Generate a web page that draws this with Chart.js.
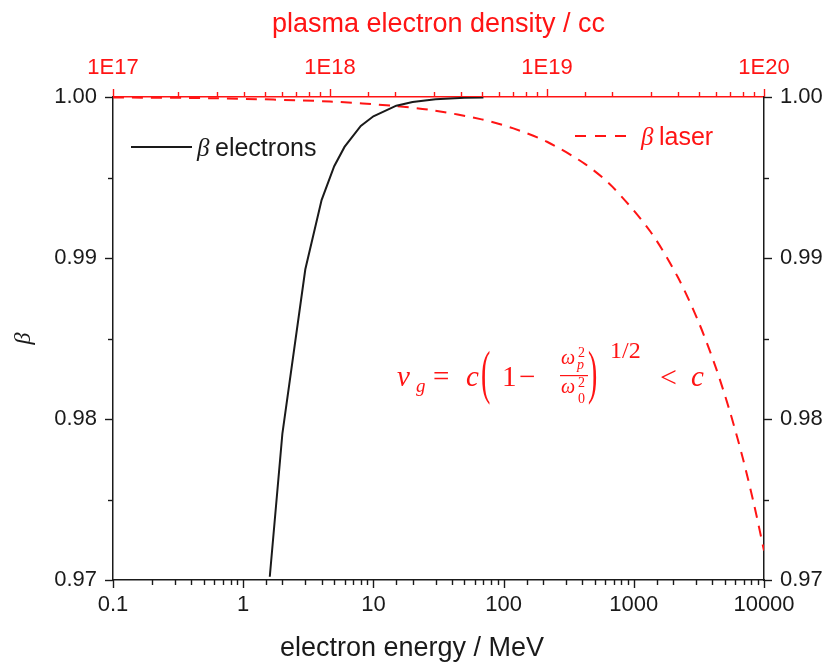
<!DOCTYPE html>
<html>
<head>
<meta charset="utf-8">
<script src="https://cdn.jsdelivr.net/npm/chart.js@4.4.1/dist/chart.umd.min.js"></script>
<style>
  html, body { margin: 0; padding: 0; background: #fff; }
  #wrap { width: 824px; height: 664px; }
</style>
</head>
<body>
<div id="wrap"><canvas id="chart" width="824" height="664"></canvas></div>
<script>
const RED = "#ff1414";
const INK = "#1a1a1a";

// black curve: electron energy (MeV) -> beta
const energyMeV = [1.6, 2, 3, 4, 5, 6, 8, 10, 15, 20, 30, 50, 70];
const betaElectrons = [0.9702, 0.9791, 0.9893, 0.9936, 0.9957, 0.9969, 0.9982, 0.9988, 0.99946, 0.99969, 0.99986, 0.99995, 0.99997];

// red dashed curve: plasma density (per cc) -> laser group velocity / c
const densityCc = [1e17, 3e17, 1e18, 2e18, 3e18, 5e18, 7e18, 1e19, 1.5e19, 2e19, 3e19, 4e19, 5e19, 6e19, 7e19, 8e19, 9e19, 1e20];
const betaLaser = [0.99997, 0.99992, 0.99972, 0.99944, 0.99917, 0.99861, 0.99805, 0.99722, 0.99583, 0.99443, 0.99163, 0.98883, 0.98601, 0.98319, 0.98036, 0.97753, 0.97468, 0.97183];

// tick labels
const energyTickValues = [0.1, 1, 10, 100, 1000, 10000];
const energyTicks = ["0.1", "1", "10", "100", "1000", "10000"];
const densityTickValues = [1e17, 1e18, 1e19, 1e20];
const densityTicks = ["1E17", "1E18", "1E19", "1E20"];
const betaTickValues = [0.97, 0.98, 0.99, 1.0];
const betaTicks = ["0.97", "0.98", "0.99", "1.00"];

function pickLabel(v, values, labels) {
  const i = values.findIndex((t) => Math.abs(v - t) <= Math.abs(t) * 1e-6);
  return i < 0 ? "" : labels[i];
}

const SANS = "'Liberation Sans', Arial, sans-serif";
const tickFont = { family: SANS, size: 22 };
const titleFont = { family: SANS, size: 27 };

// outward tick marks, long on labelled ticks and short on the rest
const tickMarks = {
  id: "tickMarks",
  afterDraw(chart) {
    const { ctx, chartArea: a } = chart;
    ctx.save();
    ctx.lineWidth = 1.4;
    for (const id of ["x", "x2", "y", "y2"]) {
      const s = chart.scales[id];
      ctx.strokeStyle = id === "x2" ? RED : INK;
      for (const t of s.ticks) {
        const p = Math.round(s.getPixelForValue(t.value)) + 0.5;
        const len = t.label ? 8 : 5;
        ctx.beginPath();
        if (id === "x") { ctx.moveTo(p, a.bottom); ctx.lineTo(p, a.bottom + len); }
        if (id === "x2") { ctx.moveTo(p, a.top); ctx.lineTo(p, a.top - len); }
        if (id === "y") { ctx.moveTo(a.left, p); ctx.lineTo(a.left - len, p); }
        if (id === "y2") { ctx.moveTo(a.right, p); ctx.lineTo(a.right + len, p); }
        ctx.stroke();
      }
    }
    ctx.restore();
  },
};

function put(ctx, txt, font, x, y) {
  ctx.font = font;
  ctx.fillText(txt, x, y);
}

function bigParen(ctx, ch, x, cy) {
  ctx.save();
  ctx.translate(x, cy);
  ctx.scale(1, 2.1);
  ctx.font = "28px 'Liberation Serif', serif";
  ctx.fillText(ch, 0, 7);
  ctx.restore();
}

// bottom title, legend entries and the group velocity formula
const annotations = {
  id: "annotations",
  afterDraw(chart) {
    const ctx = chart.ctx;
    const sans = `25px ${SANS}`;
    const it = (s) => `italic ${s}px 'Liberation Serif', serif`;
    const rm = (s) => `${s}px 'Liberation Serif', serif`;
    ctx.save();
    ctx.textBaseline = "alphabetic";

    ctx.fillStyle = INK;
    ctx.textAlign = "center";
    put(ctx, "electron energy / MeV", `27px ${SANS}`, 412, 656);
    ctx.textAlign = "left";

    // black legend
    ctx.strokeStyle = INK;
    ctx.lineWidth = 2;
    ctx.beginPath();
    ctx.moveTo(131, 147);
    ctx.lineTo(192, 147);
    ctx.stroke();
    put(ctx, "\u03B2", it(25), 197, 156);
    put(ctx, "electrons", sans, 215, 156);

    // red legend
    ctx.strokeStyle = RED;
    ctx.setLineDash([11, 9]);
    ctx.beginPath();
    ctx.moveTo(575, 136);
    ctx.lineTo(627, 136);
    ctx.stroke();
    ctx.setLineDash([]);
    ctx.fillStyle = RED;
    put(ctx, "\u03B2", it(25), 641, 145);
    put(ctx, "laser", sans, 659, 145);

    // v_g = c (1 - wp^2/w0^2)^(1/2) < c
    put(ctx, "v", it(29), 397, 386);
    put(ctx, "g", it(19), 416, 392);
    put(ctx, "=", rm(29), 433, 386);
    put(ctx, "c", it(29), 466, 386);
    bigParen(ctx, "(", 481, 377);
    put(ctx, "1", rm(29), 502, 386);
    put(ctx, "\u2212", rm(29), 519, 386);
    put(ctx, "\u03C9", it(20), 561, 364);
    put(ctx, "2", rm(14), 578, 357);
    put(ctx, "p", it(14), 577, 369);
    ctx.fillRect(560, 375, 28, 1.2);
    put(ctx, "\u03C9", it(20), 561, 393);
    put(ctx, "2", rm(14), 578, 387);
    put(ctx, "0", rm(14), 578, 403);
    bigParen(ctx, ")", 588, 377);
    put(ctx, "1/2", rm(24), 610, 358);
    put(ctx, "<", rm(30), 660, 387);
    put(ctx, "c", it(29), 691, 386);
    ctx.restore();
  },
};

new Chart(document.getElementById("chart"), {
  type: "line",
  data: {
    datasets: [
      {
        label: "\u03B2 electrons",
        data: energyMeV.map((e, i) => ({ x: e, y: betaElectrons[i] })),
        xAxisID: "x",
        yAxisID: "y",
        borderColor: INK,
        borderWidth: 2,
        pointRadius: 0,
        tension: 0,
      },
      {
        label: "\u03B2 laser",
        data: densityCc.map((n, i) => ({ x: n, y: betaLaser[i] })),
        xAxisID: "x2",
        yAxisID: "y",
        borderColor: RED,
        borderWidth: 2,
        borderDash: [11, 8],
        pointRadius: 0,
        tension: 0.3,
      },
    ],
  },
  options: {
    responsive: false,
    animation: false,
    layout: { padding: 0 },
    plugins: { legend: { display: false }, tooltip: { enabled: false } },
    scales: {
      x: {
        type: "logarithmic",
        position: "bottom",
        min: 0.1,
        max: 10000,
        grid: { display: false, drawTicks: false },
        border: { display: true, color: INK, width: 1.5 },
        ticks: {
          autoSkip: false,
          maxRotation: 0,
          padding: 12,
          color: INK,
          font: tickFont,
          callback: (v) => pickLabel(v, energyTickValues, energyTicks),
        },
        afterFit: (s) => { s.height = 84; },
      },
      x2: {
        type: "logarithmic",
        position: "top",
        min: 1e17,
        max: 1e20,
        grid: { display: false, drawTicks: false },
        border: { display: true, color: RED, width: 1.5 },
        ticks: {
          autoSkip: false,
          maxRotation: 0,
          padding: 16,
          color: RED,
          font: tickFont,
          callback: (v) => pickLabel(v, densityTickValues, densityTicks),
        },
        title: {
          display: true,
          text: "plasma electron density / cc",
          color: RED,
          font: titleFont,
          padding: { top: 8, bottom: 0 },
        },
        afterFit: (s) => { s.height = 97; },
      },
      y: {
        type: "linear",
        position: "left",
        min: 0.97,
        max: 1.0,
        grid: { display: false, drawTicks: false },
        border: { display: true, color: INK, width: 1.5 },
        ticks: {
          stepSize: 0.005,
          padding: 16,
          color: INK,
          font: tickFont,
          callback: (v) => pickLabel(v, betaTickValues, betaTicks),
        },
        title: {
          display: true,
          text: "\u03B2",
          color: INK,
          font: { family: "'Liberation Serif', serif", size: 24, style: "italic" },
          padding: { top: 9, bottom: 0 },
        },
        afterFit: (s) => { s.width = 113; },
      },
      y2: {
        type: "linear",
        position: "right",
        min: 0.97,
        max: 1.0,
        grid: { display: false, drawTicks: false },
        border: { display: true, color: INK, width: 1.5 },
        ticks: {
          stepSize: 0.005,
          padding: 16,
          color: INK,
          font: tickFont,
          callback: (v) => pickLabel(v, betaTickValues, betaTicks),
        },
        afterFit: (s) => { s.width = 60; },
      },
    },
  },
  plugins: [tickMarks, annotations],
});
</script>
</body>
</html>
